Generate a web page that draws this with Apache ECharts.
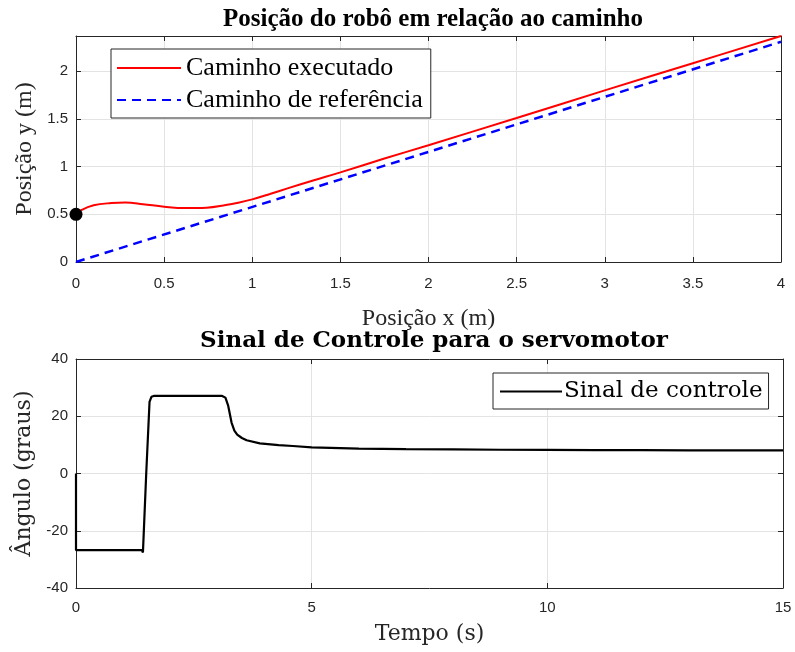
<!DOCTYPE html>
<html><head><meta charset="utf-8">
<script src="https://cdn.jsdelivr.net/npm/echarts@6/dist/echarts.min.js"></script>
<style>html,body{margin:0;padding:0;background:#fff}#c{width:795px;height:652px}</style>
</head><body><div id="c"></div>
<script>
// Top chart: robot path
const pathX = [0, 0.03, 0.1, 0.2, 0.28, 0.38, 0.5, 0.62, 0.74, 0.85, 0.92, 1.0, 1.1, 1.2, 1.35, 1.5, 1.75, 2.0, 2.5, 3.0, 3.5, 4.0];
const pathY = [0.5, 0.545, 0.595, 0.618, 0.623, 0.606, 0.58, 0.565, 0.57, 0.598, 0.622, 0.657, 0.713, 0.772, 0.857, 0.94, 1.085, 1.225, 1.51, 1.80, 2.085, 2.37];
const refX = [0, 4];
const refY = [0, 2.309];
const startPoint = [0, 0.5];
const topXTicks = [0, 0.5, 1, 1.5, 2, 2.5, 3, 3.5, 4];
const topYTicks = [0, 0.5, 1, 1.5, 2];
// Bottom chart: control signal
const timeS = [0, 0, 1.40, 1.42, 1.49, 1.56, 1.60, 1.65, 3.10, 3.17, 3.23, 3.30, 3.36, 3.42, 3.52, 3.62, 3.9, 4.3, 4.6, 5.0, 6, 7, 8, 9, 10, 11, 12, 13, 14, 15];
const angleDeg = [0, -26.8, -26.8, -27.6, 0, 25, 26.8, 27.1, 27.1, 26.5, 23.6, 17.8, 15, 13.6, 12.4, 11.6, 10.5, 9.9, 9.6, 9.1, 8.7, 8.5, 8.4, 8.3, 8.25, 8.2, 8.15, 8.1, 8.1, 8.05];
const botXTicks = [0, 5, 10, 15];
const botYTicks = [-40, -20, 0, 20, 40];

const zip = (a, b) => a.map((v, i) => [v, b[i]]);
const AX = '#262626', GRID = '#e3e3e3';
const SERIF = 'Liberation Serif', WSERIF = 'DejaVu Serif', SANS = 'Liberation Sans';

function fmt(ticks) {
  return v => ticks.some(t => Math.abs(t - v) < 1e-9) ? String(v) : '';
}
function mainAxis(idx, min, max, interval, ticks, name, nameGap, isX, labelMargin, nameFont, nameSize) {
  return {
    type: 'value', gridIndex: idx, min, max, interval,
    position: isX ? 'bottom' : 'left',
    name, nameLocation: 'middle', nameGap,
    nameTextStyle: { fontFamily: nameFont, fontSize: nameSize, color: AX },
    axisLine: { show: true, onZero: false, lineStyle: { color: AX, width: 1 } },
    axisTick: { show: true, inside: true, length: 5, lineStyle: { color: AX } },
    axisLabel: { show: true, margin: labelMargin, fontFamily: SANS, fontSize: 15, color: AX, formatter: fmt(ticks) },
    splitLine: { show: true, lineStyle: { color: GRID, width: 1 } }
  };
}
function mirrorAxis(idx, min, max, interval, isX) {
  return {
    type: 'value', gridIndex: idx, min, max, interval,
    position: isX ? 'top' : 'right',
    axisLine: { show: true, onZero: false, lineStyle: { color: AX, width: 1 } },
    axisTick: { show: true, inside: true, length: 5, lineStyle: { color: AX } },
    axisLabel: { show: false }, splitLine: { show: false }
  };
}

const chart = echarts.init(document.getElementById('c'), null, { renderer: 'canvas' });
chart.setOption({
  animation: false,
  backgroundColor: '#fff',
  title: [
    { text: 'Posição do robô em relação ao caminho', left: 428, top: 2, textAlign: 'center',
      textStyle: { fontFamily: SERIF, fontWeight: 'bold', fontSize: 25, color: '#000' } },
    { text: 'Sinal de Controle para o servomotor', left: 429, top: 325, textAlign: 'center',
      textStyle: { fontFamily: WSERIF, fontWeight: 'bold', fontSize: 23, color: '#000' } }
  ],
  grid: [
    { left: 76, top: 36, width: 705, height: 226 },
    { left: 76, top: 359, width: 707, height: 229 }
  ],
  xAxis: [
    mainAxis(0, 0, 4, 0.5, topXTicks, 'Posição x (m)', 45, true, 14, SERIF, 24),
    mirrorAxis(0, 0, 4, 0.5, true),
    mainAxis(1, 0, 15, 5, botXTicks, 'Tempo (s)', 35, true, 12, WSERIF, 22),
    mirrorAxis(1, 0, 15, 5, true)
  ],
  yAxis: [
    mainAxis(0, 0, 2.37, 0.5, topYTicks, 'Posição y (m)', 36, false, 8, SERIF, 24),
    mirrorAxis(0, 0, 2.37, 0.5, false),
    mainAxis(1, -40, 40, 20, botYTicks, 'Ângulo (graus)', 34, false, 8, WSERIF, 22),
    mirrorAxis(1, -40, 40, 20, false)
  ],
  legend: [
    { data: ['Caminho executado', 'Caminho de referência'], left: 111, top: 49, orient: 'vertical',
      itemWidth: 64, itemHeight: 14, itemGap: 6, padding: [6, 8, 5, 5],
      borderColor: AX, borderWidth: 1, backgroundColor: '#fff',
      itemStyle: { opacity: 0 },
      textStyle: { fontFamily: SERIF, fontSize: 26, color: '#000', padding: [0, 0, 0, 0] } },
    { data: ['Sinal de controle'], left: 493, top: 373, orient: 'vertical',
      itemWidth: 62, itemHeight: 14, padding: [7, 6, 6, 6],
      borderColor: AX, borderWidth: 1, backgroundColor: '#fff',
      itemStyle: { opacity: 0 },
      textStyle: { fontFamily: WSERIF, fontSize: 23, color: '#000', padding: [0, 0, 0, -3] } }
  ],
  series: [
    { name: 'Caminho de referência', type: 'line', xAxisIndex: 0, yAxisIndex: 0, symbol: 'none',
      data: zip(refX, refY), lineStyle: { color: '#0000ff', width: 2.5, type: [9, 6] }, itemStyle: { color: '#0000ff' }, z: 2 },
    { name: 'Caminho executado', type: 'line', xAxisIndex: 0, yAxisIndex: 0, symbol: 'none', smooth: 0.4,
      data: zip(pathX, pathY), lineStyle: { color: '#ff0000', width: 2 }, itemStyle: { color: '#ff0000' }, z: 3 },
    { name: 'Início', type: 'scatter', xAxisIndex: 0, yAxisIndex: 0, symbolSize: 13,
      data: [startPoint], itemStyle: { color: '#000', opacity: 1 }, z: 4, clip: false },
    { name: 'Sinal de controle', type: 'line', xAxisIndex: 2, yAxisIndex: 2, symbol: 'none',
      data: zip(timeS, angleDeg), lineStyle: { color: '#000', width: 2.2 }, itemStyle: { color: '#000' }, z: 3 }
  ]
});
</script></body></html>
